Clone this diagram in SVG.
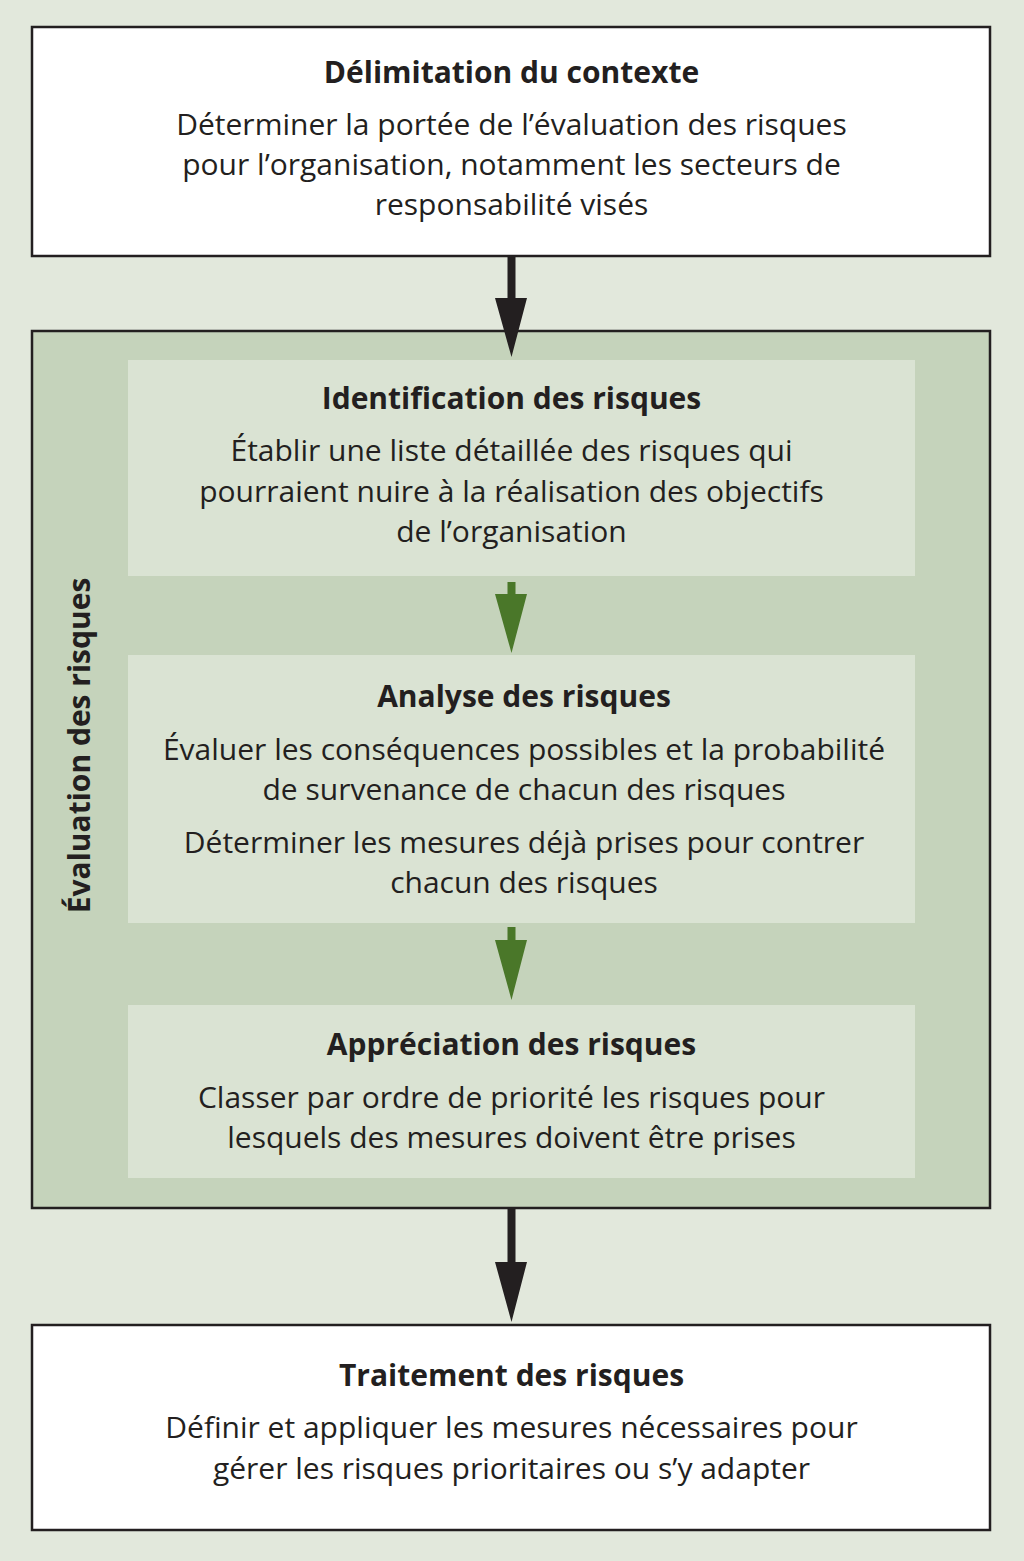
<svg xmlns="http://www.w3.org/2000/svg" width="1024" height="1561" viewBox="0 0 1024 1561">
<style>
.t{font-family:"Open Sans","Noto Sans",sans-serif;font-weight:bold;font-size:30px;fill:#231f20;text-anchor:middle}
.b{font-family:"Open Sans","Noto Sans",sans-serif;font-size:30px;fill:#231f20;text-anchor:middle}
.box{fill:#ffffff;stroke:#231f20;stroke-width:2.5}
.inner{fill:#dae3d3}
</style>
<rect x="0" y="0" width="1024" height="1561" fill="#e2e8dc"/>
<g id="contexte">
<rect class="box" x="32" y="27" width="958" height="229"/>
<text class="t" x="511.5" y="83">Délimitation du contexte</text>
<text class="b" x="511.5" y="135">Déterminer la portée de l’évaluation des risques</text>
<text class="b" x="511.5" y="175">pour l’organisation, notamment les secteurs de</text>
<text class="b" x="511.5" y="215">responsabilité visés</text>
</g>
<g id="evaluation">
<rect x="32" y="331" width="958" height="877" fill="#c5d3bb" stroke="#231f20" stroke-width="2.5"/>
<text class="t" transform="translate(90,745.5) rotate(-90)" x="0" y="0">Évaluation des risques</text>
</g>
<g id="identification">
<rect class="inner" x="128" y="360" width="787" height="216"/>
<text class="t" x="511.5" y="409">Identification des risques</text>
<text class="b" x="511.5" y="461">Établir une liste détaillée des risques qui</text>
<text class="b" x="511.5" y="502">pourraient nuire à la réalisation des objectifs</text>
<text class="b" x="511.5" y="542">de l’organisation</text>
</g>
<g id="analyse">
<rect class="inner" x="128" y="655" width="787" height="268"/>
<text class="t" x="524" y="707">Analyse des risques</text>
<text class="b" x="524" y="760">Évaluer les conséquences possibles et la probabilité</text>
<text class="b" x="524" y="800">de survenance de chacun des risques</text>
<text class="b" x="524" y="853">Déterminer les mesures déjà prises pour contrer</text>
<text class="b" x="524" y="893">chacun des risques</text>
</g>
<g id="appreciation">
<rect class="inner" x="128" y="1005" width="787" height="173"/>
<text class="t" x="511.5" y="1055">Appréciation des risques</text>
<text class="b" x="511.5" y="1108">Classer par ordre de priorité les risques pour</text>
<text class="b" x="511.5" y="1148">lesquels des mesures doivent être prises</text>
</g>
<g id="traitement">
<rect class="box" x="32" y="1325" width="958" height="205"/>
<text class="t" x="511.5" y="1386">Traitement des risques</text>
<text class="b" x="511.5" y="1438">Définir et appliquer les mesures nécessaires pour</text>
<text class="b" x="511.5" y="1479">gérer les risques prioritaires ou s’y adapter</text>
</g>
<g id="connectors">
<path d="M507.5 257 H515.5 V298 H527 L511.5 357 L495 298 H507.5 Z" fill="#231f20"/>
<path d="M507.5 582 H515.5 V594 H527 L511.5 653 L495 594 H507.5 Z" fill="#4a7729"/>
<path d="M507.5 927 H515.5 V940 H527 L511.5 1000 L495 940 H507.5 Z" fill="#4a7729"/>
<path d="M507.5 1209 H515.5 V1262 H527 L511.5 1322 L495 1262 H507.5 Z" fill="#231f20"/>
</g>
</svg>
